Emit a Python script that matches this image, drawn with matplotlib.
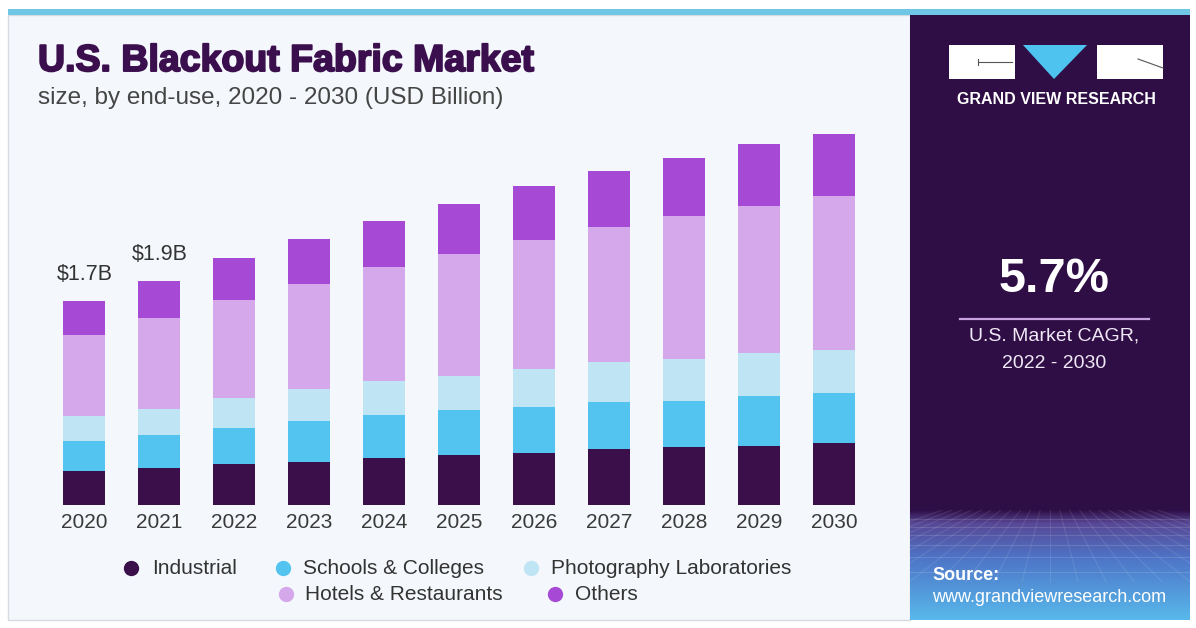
import matplotlib
matplotlib.use('Agg')
import matplotlib.pyplot as plt
import matplotlib.patheffects as pe
from matplotlib.patches import Rectangle, Polygon
from matplotlib.lines import Line2D
import numpy as np

plt.rcParams['font.family'] = ['Liberation Sans', 'DejaVu Sans']

# datos (USD Billion)
years = ['2020', '2021', '2022', '2023', '2024', '2025',
         '2026', '2027', '2028', '2029', '2030']
industrial = [0.283, 0.31, 0.34, 0.36, 0.39, 0.415, 0.435, 0.465, 0.48, 0.495, 0.515]
schools = [0.25, 0.27, 0.30, 0.34, 0.36, 0.375, 0.385, 0.39, 0.39, 0.415, 0.42]
photography = [0.21, 0.22, 0.25, 0.265, 0.285, 0.285, 0.315, 0.335, 0.35, 0.36, 0.355]
hotels = [0.675, 0.755, 0.82, 0.875, 0.945, 1.015, 1.075, 1.13, 1.185, 1.225, 1.285]
others = [0.285, 0.31, 0.345, 0.375, 0.39, 0.42, 0.445, 0.465, 0.485, 0.51, 0.52]
segments = ['Industrial', 'Schools & Colleges', 'Photography Laboratories',
            'Hotels & Restaurants', 'Others']
total_labels = [r'\$1.7B', r'\$1.9B']

colors = ['#3a0f4a', '#52c4ef', '#bfe5f5', '#d4a8ea', '#a64ad6']

W, H = 1196, 628
fig = plt.figure(figsize=(W / 100, H / 100), dpi=100)
fig.patch.set_facecolor('white')


def fx(px):
    return px / W


def fy(py):
    return 1 - py / H


def box(x0, y0, x1, y1, **kw):
    fig.add_artist(Rectangle((fx(x0), fy(y1)), fx(x1) - fx(x0), fy(y0) - fy(y1),
                             transform=fig.transFigure, **kw))


# fondos
box(8, 15, 910, 620, facecolor='#f4f7fb', edgecolor='#d6dbe2', lw=1, zorder=-5)
box(910, 15, 1190, 620, facecolor='#2f0e46', edgecolor='none', zorder=-5)
box(8, 9, 1190, 15, facecolor='#6fc7e5', edgecolor='none', zorder=-4)

# degradado inferior del panel derecho
gax = fig.add_axes([fx(910), fy(620), fx(1190) - fx(910), fy(510) - fy(620)])
pos = np.linspace(0, 1, 200)
stops = [0, 0.12, 0.45, 1]
c_top = np.array([[47, 14, 70], [88, 72, 150], [78, 118, 200], [88, 185, 235]]) / 255
grad = np.stack([np.interp(pos, stops, c_top[:, k]) for k in range(3)], axis=1)
gax.imshow(grad[:, None, :], aspect='auto', extent=[0, 1, 0, 1], origin='upper')
for yy in [0.92, 0.85, 0.77, 0.68, 0.57, 0.44]:
    gax.plot([0, 1], [yy, yy], color='white', alpha=0.13, lw=0.8)
for xx in np.linspace(-0.6, 1.6, 23):
    gax.plot([xx, 0.5 + (xx - 0.5) * 0.35], [0.35, 1], color='white', alpha=0.10, lw=0.8)
gax.set_xlim(0, 1)
gax.set_ylim(0, 1)
gax.axis('off')

# grafica de barras
ax = fig.add_axes([fx(39.5), fy(505), fx(879) - fx(39.5), fy(95) - fy(505)])
ax.set_facecolor('none')
x = np.arange(len(years))
bottom = np.zeros(len(years))
for vals, col, name in zip([industrial, schools, photography, hotels, others], colors, segments):
    ax.bar(x, vals, width=0.56, bottom=bottom, color=col, label=name, linewidth=0)
    bottom = bottom + np.array(vals)

for i, lab in enumerate(total_labels):
    ax.annotate(lab, xy=(x[i], bottom[i]), xytext=(0, 19), textcoords='offset points',
                ha='center', va='center', fontsize=15.5, color='#333333')

ax.set_xlim(-0.6, 10.6)
ax.set_ylim(0, 410 / 120)
ax.set_xticks(x)
ax.set_xticklabels(years, fontsize=15, color='#3a3a3a')
ax.tick_params(axis='x', length=0, pad=6)
ax.set_yticks([])
for s in ax.spines.values():
    s.set_visible(False)

# titulos
fig.text(fx(38), fy(61), 'U.S. Blackout Fabric Market', fontsize=27, fontweight='heavy',
         color='#3b0f4e', ha='left', va='center',
         path_effects=[pe.withStroke(linewidth=1.4, foreground='#3b0f4e')])
fig.text(fx(38), fy(98), 'size, by end-use, 2020 - 2030 (USD Billion)', fontsize=17.5,
         color='#454545', ha='left', va='center')

# leyenda manual
legend_pos = [(131, 152, 568), (283, 303, 568), (531, 551, 568), (286, 305, 594), (555, 575, 594)]
for (mx, tx, ty), col, name in zip(legend_pos, colors, segments):
    fig.add_artist(Line2D([fx(mx)], [fy(ty)], marker='o', markersize=10, color=col,
                          linestyle='none', transform=fig.transFigure))
    fig.text(fx(tx), fy(ty), name, fontsize=15, color='#333333', ha='left', va='center')

# logo
box(949, 45, 1015, 79, facecolor='white', edgecolor='none', zorder=-3)
box(1097, 45, 1163, 79, facecolor='white', edgecolor='none', zorder=-3)
fig.add_artist(Polygon([(fx(1023), fy(45)), (fx(1087), fy(45)), (fx(1054), fy(79))],
                       closed=True, facecolor='#4fc3ef', edgecolor='none',
                       transform=fig.transFigure, zorder=-3))
fig.add_artist(Line2D([fx(978), fx(1012)], [fy(62), fy(62)], color='#555555', lw=0.8,
                      transform=fig.transFigure))
fig.add_artist(Line2D([fx(978), fx(978)], [fy(59), fy(65)], color='#555555', lw=0.8,
                      transform=fig.transFigure))
fig.add_artist(Line2D([fx(1138), fx(1163)], [fy(59), fy(68)], color='#555555', lw=0.8,
                      transform=fig.transFigure))
fig.text(fx(1056), fy(99), 'GRAND VIEW RESEARCH', fontsize=11.5, fontweight='bold',
         color='white', ha='center', va='center')

# CAGR
fig.text(fx(1054), fy(279), '5.7%', fontsize=35, fontweight='bold', color='white',
         ha='center', va='center')
fig.add_artist(Line2D([fx(960), fx(1149)], [fy(319), fy(319)], color='#c9a3e0', lw=1.6,
                      transform=fig.transFigure))
fig.text(fx(1054), fy(336), 'U.S. Market CAGR,', fontsize=14, color='#f0e8f6',
         ha='center', va='center')
fig.text(fx(1054), fy(363), '2022 - 2030', fontsize=14, color='#f0e8f6',
         ha='center', va='center')

# fuente
fig.text(fx(932), fy(575), 'Source:', fontsize=13, fontweight='bold', color='white',
         ha='left', va='center')
fig.text(fx(932), fy(597), 'www.grandviewresearch.com', fontsize=13, color='white',
         ha='left', va='center')

fig.savefig('out.png', dpi=100, facecolor=fig.get_facecolor())
